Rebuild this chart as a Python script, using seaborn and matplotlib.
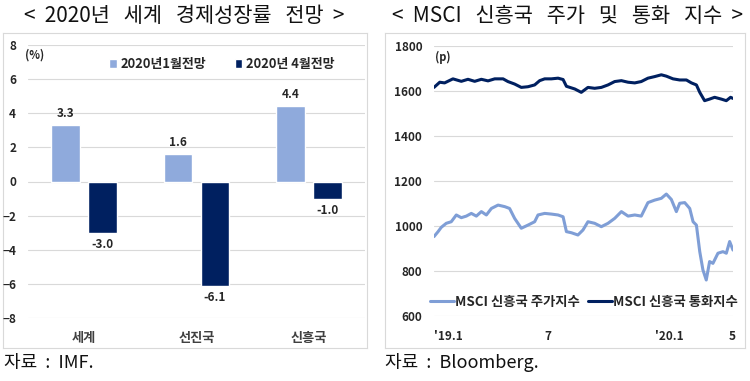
import matplotlib
matplotlib.use("Agg")
import matplotlib.pyplot as plt
from matplotlib.lines import Line2D
import seaborn as sns
import pandas as pd

# ---------------- data ----------------
regions = ["세계", "선진국", "신흥국"]
jan_forecast = [3.3, 1.6, 4.4]
apr_forecast = [-3.0, -6.1, -1.0]
series_names = ["2020년1월전망", "2020년 4월전망"]
growth_yticks = [-8, -6, -4, -2, 0, 2, 4, 6, 8]

# MSCI EM stock index (months since Jan 2019)
stock_month = [0.00, 0.22, 0.39, 0.66, 0.93, 1.20, 1.47, 1.74, 2.01, 2.28, 2.55, 2.82,
               3.09, 3.45, 3.81, 4.07, 4.34, 4.70, 5.06, 5.42, 5.60, 5.96, 6.32, 6.68,
               6.95, 7.13, 7.40, 7.75, 8.02, 8.29, 8.65, 9.01, 9.37, 9.73, 10.09, 10.45,
               10.81, 11.16, 11.52, 11.88, 12.24, 12.51, 12.78, 13.05, 13.23, 13.50, 13.77,
               13.95, 14.13, 14.31, 14.48, 14.66, 14.84, 15.02, 15.29, 15.56, 15.74, 15.92, 16.10]
stock_index = [953, 975, 994, 1012, 1019, 1049, 1037, 1044, 1056, 1044, 1064, 1049,
               1078, 1093, 1086, 1078, 1034, 990, 1004, 1019, 1049, 1056, 1053, 1049,
               1041, 975, 970, 960, 982, 1019, 1012, 997, 1012, 1034, 1064, 1044,
               1049, 1044, 1104, 1115, 1123, 1142, 1118, 1064, 1101, 1104, 1078,
               1019, 1004, 886, 805, 760, 842, 834, 879, 886, 879, 931, 893]

# MSCI EM currency index
fx_month = [0.00, 0.31, 0.57, 1.02, 1.47, 1.83, 2.19, 2.55, 2.91, 3.27, 3.72, 3.98,
            4.34, 4.70, 5.06, 5.42, 5.69, 5.96, 6.32, 6.68, 6.95, 7.13, 7.58, 7.93,
            8.29, 8.65, 9.01, 9.37, 9.73, 10.09, 10.45, 10.81, 11.16, 11.52, 11.88,
            12.24, 12.51, 12.87, 13.23, 13.59, 13.86, 14.13, 14.31, 14.57, 14.84,
            15.11, 15.47, 15.74, 15.97, 16.10]
fx_index = [1616, 1639, 1636, 1654, 1643, 1652, 1643, 1652, 1645, 1654, 1654, 1642,
            1631, 1616, 1619, 1627, 1646, 1654, 1654, 1657, 1651, 1621, 1609, 1594,
            1616, 1612, 1616, 1627, 1642, 1646, 1639, 1636, 1642, 1657, 1664,
            1672, 1666, 1654, 1649, 1649, 1636, 1627, 1594, 1557, 1564,
            1572, 1564, 1557, 1572, 1567]
msci_names = ["MSCI 신흥국 주가지수", "MSCI 신흥국 통화지수"]
date_tick_pos = [0.75, 6.14, 12.69, 16.05]
date_tick_labels = ["'19.1", "7", "'20.1", "5"]
msci_yticks = [600, 800, 1000, 1200, 1400, 1600, 1800]

# ---------------- style ----------------
sns.set_style("white")
plt.rcParams["font.family"] = ["Noto Sans CJK KR", "DejaVu Sans"]

LIGHT = "#8FAADC"
DARK = "#002060"
LINE_LIGHT = "#7F9ED6"
GRID = "#D9D9D9"
TXT = "#262626"

W, H = 750, 381
fig = plt.figure(figsize=(W / 100, H / 100), dpi=100)


def box(x0, y0, x1, y1):
    return [x0 / W, 1 - y1 / H, (x1 - x0) / W, (y1 - y0) / H]


def frame(x0, y0, x1, y1):
    a = fig.add_axes(box(x0, y0, x1, y1))
    a.set_xticks([])
    a.set_yticks([])
    for s in a.spines.values():
        s.set_color(GRID)
        s.set_linewidth(0.8)
    a.set_zorder(0)
    return a


# ---------------- left panel ----------------
frame(3, 33, 367, 348)
ax = fig.add_axes(box(28, 45, 365, 318))
ax.set_facecolor("none")
df = pd.DataFrame({
    "region": regions * 2,
    "series": [series_names[0]] * 3 + [series_names[1]] * 3,
    "value": jan_forecast + apr_forecast,
})
sns.barplot(data=df, x="region", y="value", hue="series", palette=[LIGHT, DARK],
            width=0.66, gap=0.22, ax=ax, errorbar=None, saturation=1)
for c in ax.containers:
    ax.bar_label(c, fmt="%.1f", padding=4, fontsize=8.5, fontweight="bold", color=TXT)
ax.set_ylim(-8, 8)
ax.set_yticks(growth_yticks)
ax.yaxis.grid(True, color=GRID, lw=0.8)
ax.set_axisbelow(True)
for s in ax.spines.values():
    s.set_visible(False)
ax.set_xlabel("")
ax.set_ylabel("")
ax.tick_params(axis="y", length=0, pad=8.5, labelsize=8.5, labelcolor=TXT)
ax.tick_params(axis="x", length=0, pad=9.5, labelsize=9.5, labelcolor="#404040")
for t in ax.get_yticklabels() + ax.get_xticklabels():
    t.set_fontweight("bold")
h, l = ax.get_legend_handles_labels()
ax.legend(h, l, loc="center left", bbox_to_anchor=(109 / W, 1 - 64 / H),
          bbox_transform=fig.transFigure, ncol=2, frameon=False, borderpad=0,
          borderaxespad=0, handlelength=0.6, handleheight=0.6, handletextpad=0.3,
          columnspacing=2.2, prop={"weight": "bold", "size": 9.3})
fig.text(25 / W, 1 - 55 / H, "(%)", fontsize=8, fontweight="bold", color=TXT,
         ha="left", va="center")
fig.text(184 / W, 1 - 16 / H, "<  2020년   세계   경제성장률   전망  >", fontsize=15,
         ha="center", va="center", color="#111111")
fig.text(4 / W, 1 - 363 / H, "자료  :  IMF.", fontsize=13, ha="left", va="center",
         color="#111111")

# ---------------- right panel ----------------
frame(385, 33, 745, 348)
ax2 = fig.add_axes(box(434, 46, 733, 316))
ax2.set_facecolor("none")
sns.lineplot(x=stock_month, y=stock_index, color=LINE_LIGHT, lw=2.2, ax=ax2)
sns.lineplot(x=fx_month, y=fx_index, color=DARK, lw=2.2, ax=ax2)
ax2.set_xlim(0, 16.1)
ax2.set_ylim(600, 1800)
ax2.set_yticks(msci_yticks)
ax2.set_xticks(date_tick_pos)
ax2.set_xticklabels(date_tick_labels)
ax2.yaxis.grid(True, color=GRID, lw=0.8)
ax2.set_axisbelow(True)
for s in ax2.spines.values():
    s.set_visible(False)
ax2.tick_params(axis="y", length=0, pad=8.5, labelsize=8.5, labelcolor=TXT)
ax2.tick_params(axis="x", length=0, pad=10, labelsize=8.5, labelcolor=TXT)
for t in ax2.get_yticklabels() + ax2.get_xticklabels():
    t.set_fontweight("bold")
handles = [Line2D([], [], color=LINE_LIGHT, lw=2.2), Line2D([], [], color=DARK, lw=2.2)]
ax2.legend(handles, msci_names, loc="center left", bbox_to_anchor=(430 / W, 1 - 302 / H),
           bbox_transform=fig.transFigure, ncol=2, frameon=False, borderpad=0,
           borderaxespad=0, handlelength=1.8, handletextpad=0.1, columnspacing=0.6,
           prop={"size": 9.6, "weight": "bold"})
fig.text(435 / W, 1 - 57 / H, "(p)", fontsize=8, fontweight="bold", color=TXT,
         ha="left", va="center")
fig.text(567 / W, 1 - 16 / H, "<  MSCI   신흥국   주가   및   통화   지수  >", fontsize=15,
         ha="center", va="center", color="#111111")
fig.text(385 / W, 1 - 363 / H, "자료  :  Bloomberg.", fontsize=13, ha="left",
         va="center", color="#111111")

fig.savefig("out.png", dpi=100)
